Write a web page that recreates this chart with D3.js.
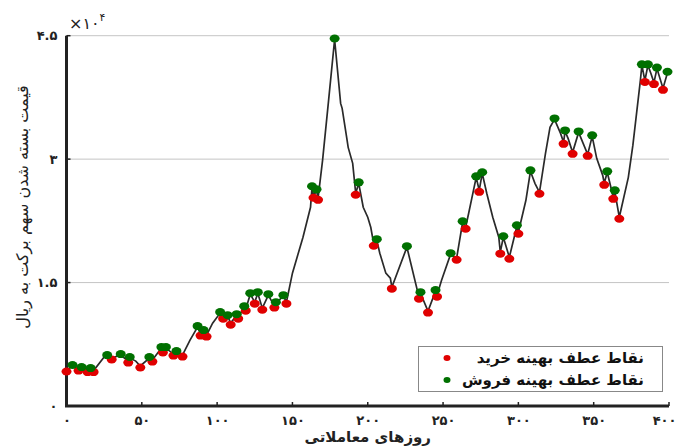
<!DOCTYPE html>
<html>
<head>
<meta charset="utf-8">
<script src="https://d3js.org/d3.v7.min.js"></script>
<style>
  body { margin: 0; background: #fff; }
  text { font-family: "DejaVu Sans", sans-serif; }
</style>
</head>
<body>
<script>
// price line (trading day, closing price in rial)
var days = [0,4,8,10,14,16,18,25,27,30,36,41,42,46,49,55,57,63,64,66,71,73,77,82,87,89,91,93,97,
  102,104,107,109,113,114,118,119,122,125,127,130,134,138,139,144,146,150,157,162,163,164,166,167,170,
  174,178,182,183,186,187,190,192,194,197,200,202,204,206,208,212,215,216,226,234,235,240,245,246,249,
  255,259,263,265,267,272,274,276,279,283,287,288,290,294,299,300,305,308,311,314,318,321,324,328,330,
  331,333,336,340,343,346,349,352,356,357,359,363,364,367,373,376,381,382,384,386,388,390,392,396,399];
var prices = [4370,4860,4490,4610,4300,4490,4300,5950,6070,5830,6190,5460,5830,5460,4860,5830,5580,7040,6680,7040,6310,6550,6190,8010,9590,8740,9100,8620,10070,
  11290,10800,10920,10070,11040,10800,12010,11770,13590,12620,13710,11890,13470,12140,12500,13350,12620,16140,20510,24150,26580,25490,26210,25240,29850,
  37140,44540,36770,36170,32650,31430,29490,25850,27060,24150,22940,21720,19660,20150,18570,16140,15530,14440,19300,13230,13710,11530,13960,13470,15290,
  18450,17960,22330,21720,23420,27790,26210,28280,25850,22940,20510,18690,20510,18080,21840,21120,25000,28520,27060,25970,30700,33860,34830,33130,32040,
  33370,32520,30830,33250,31920,30580,32770,30100,28030,27060,28400,25360,26090,22940,27790,31670,39560,41400,39560,41400,40400,39300,41000,38600,40500];

// optimal turning points
var buyDays = [0,8,14,18,30,41,49,57,64,71,77,89,93,104,109,114,119,125,130,138,146,164,167,192,204,216,234,240,246,
  259,265,274,288,294,300,314,330,336,346,357,363,367,384,390,396];
var sellDays = [4,10,16,27,36,42,55,63,66,73,87,91,102,107,113,118,122,127,134,139,144,163,166,178,194,206,226,235,245,
  255,263,272,276,290,299,308,324,331,340,349,359,364,382,386,392,399];

var xTicks = [0,50,100,150,200,250,300,350,400];
var yTicks = [0,1.5,3,4.5];
var buyLabel = "نقاط عطف بهینه خرید";
var sellLabel = "نقاط عطف بهینه فروش";
var xTitle = "روزهای معاملاتی";
var yTitle = "قیمت بسته شدن سهم برکت به ریال";

var W = 677, H = 446;
var x = d3.scaleLinear().domain([0, 400]).range([66.5, 669]);
var y = d3.scaleLinear().domain([0, 4.5]).range([406, 35.7]);

function fa(s) {
  return String(s).replace(/[0-9]/g, function (c) { return "۰۱۲۳۴۵۶۷۸۹"[+c]; });
}

var svg = d3.select("body").append("svg").attr("width", W).attr("height", H);

var pts = days.map(function (d, i) { return { day: d, v: prices[i] / 1e4 }; });
var byDay = {};
pts.forEach(function (p) { byDay[p.day] = p; });

// grid
svg.append("g").selectAll("line").data(yTicks.filter(function (t) { return t > 0; })).join("line")
  .attr("x1", x(0)).attr("x2", x(400))
  .attr("y1", function (d) { return y(d); }).attr("y2", function (d) { return y(d); })
  .attr("stroke", "#8a8a8a").attr("stroke-width", 1).attr("stroke-dasharray", "1,1");

// axes
var xAxis = d3.axisBottom(x).tickValues(xTicks).tickSize(0).tickPadding(10).tickFormat(fa);
var gx = svg.append("g").attr("transform", "translate(0," + y(0) + ")").call(xAxis);
gx.select(".domain").remove();
gx.selectAll("text").attr("font-size", 13).attr("font-weight", "bold").attr("fill", "#222");
gx.selectAll(".tick").filter(function (d) { return d === 400; }).select("text")
  .attr("text-anchor", "end").attr("x", 676 - x(400));

var yAxis = d3.axisLeft(y).tickValues(yTicks).tickSize(0).tickPadding(9)
  .tickFormat(function (d) { return fa(d); });
var gy = svg.append("g").attr("transform", "translate(" + x(0) + ",0)").call(yAxis);
gy.select(".domain").remove();
gy.selectAll("text").attr("font-size", 13).attr("font-weight", "bold").attr("fill", "#222");

// small inward ticks
svg.append("g").selectAll("line").data(xTicks.slice(1)).join("line")
  .attr("x1", function (d) { return x(d); }).attr("x2", function (d) { return x(d); })
  .attr("y1", y(0)).attr("y2", y(0) - 4).attr("stroke", "#222").attr("stroke-width", 1.5);
svg.append("g").selectAll("line").data(yTicks.slice(1)).join("line")
  .attr("x1", x(0)).attr("x2", x(0) + 4)
  .attr("y1", function (d) { return y(d); }).attr("y2", function (d) { return y(d); })
  .attr("stroke", "#222").attr("stroke-width", 1.5);

svg.append("path")
  .attr("d", "M" + x(0) + "," + y(4.5) + "V" + y(0) + "H" + x(400))
  .attr("fill", "none").attr("stroke", "#222").attr("stroke-width", 3);

// price line
var line = d3.line().x(function (d) { return x(d.day); }).y(function (d) { return y(d.v); });
svg.append("path").datum(pts).attr("d", line)
  .attr("fill", "none").attr("stroke", "#2a2a2a").attr("stroke-width", 1.7);

svg.append("g").selectAll("ellipse").data(buyDays).join("ellipse")
  .attr("cx", function (d) { return x(d); })
  .attr("cy", function (d) { return y(byDay[d].v) + 1.5; })
  .attr("rx", 5).attr("ry", 4).attr("fill", "#e00000");
svg.append("g").selectAll("ellipse").data(sellDays).join("ellipse")
  .attr("cx", function (d) { return x(d); })
  .attr("cy", function (d) { return y(byDay[d].v) - 1; })
  .attr("rx", 5).attr("ry", 4).attr("fill", "#007000");

// exponent
var ex = svg.append("text").attr("x", 69).attr("y", 29).attr("font-size", 16).attr("fill", "#222");
ex.append("tspan").text("×" + fa(10));
ex.append("tspan").attr("dy", -8).attr("font-size", 11).text(fa(4));

// titles
svg.append("text").attr("x", (x(0) + x(400)) / 2).attr("y", 442)
  .attr("text-anchor", "middle").attr("font-size", 15).attr("font-weight", "bold").attr("fill", "#222")
  .text(xTitle);
svg.append("text").attr("transform", "translate(28," + 207 + ") rotate(-90)")
  .attr("text-anchor", "middle").attr("font-size", 16).attr("fill", "#222")
  .text(yTitle);

// legend
var lg = svg.append("g");
lg.append("rect").attr("x", 418.5).attr("y", 346.5).attr("width", 244).attr("height", 45)
  .attr("fill", "#fff").attr("stroke", "#888").attr("stroke-width", 1);
[[buyLabel, "#e00000", 358], [sellLabel, "#007000", 380]].forEach(function (r) {
  lg.append("ellipse").attr("cx", 447).attr("cy", r[2]).attr("rx", 3.5).attr("ry", 3).attr("fill", r[1]);
  lg.append("text").attr("x", 644).attr("y", r[2] + 5).attr("text-anchor", "end")
    .attr("font-size", 15).attr("font-weight", "bold").attr("fill", "#111").text(r[0]);
});
</script>
</body>
</html>
